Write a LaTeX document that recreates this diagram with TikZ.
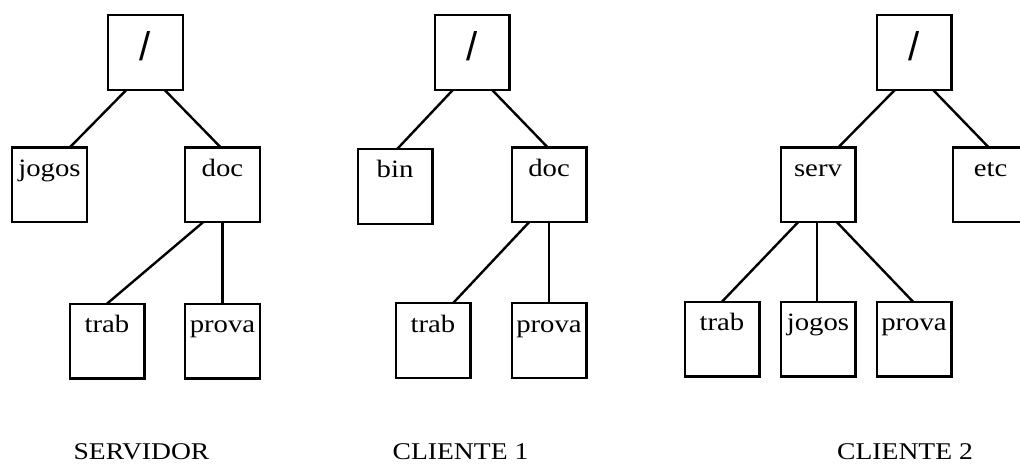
\documentclass[tikz,border=0pt]{standalone}
\usepackage{fontspec}
\setmainfont{Liberation Serif}[FakeStretch=1.15]
\newfontfamily\slashfont{Liberation Sans}

\begin{document}
\begin{tikzpicture}[x=1pt, y=-1pt,
  every node/.style={outer sep=0pt},
  dirbox/.style={draw, line width=2.4pt, minimum size=77pt-\pgflinewidth, inner sep=0pt,
    text height=0pt, text depth=17pt, font=\fontsize{25}{30}\selectfont},
  rootbox/.style={dirbox, text height=16pt, text depth=0pt, font=\slashfont\fontsize{40}{48}\selectfont},
  caption/.style={anchor=base, inner sep=0pt, font=\fontsize{24}{29}\selectfont},
  link/.style={line width=2.4pt}]
\useasboundingbox (0,0) rectangle (1020,465);

\node[rootbox] (sroot) at (145.5,52.5) {/};
\node[dirbox] (sjogos) at (49.5,185) {jogos};
\node[dirbox] (sdoc) at (222.5,185) {doc};
\node[dirbox] (strab) at (107,341) {trab};
\node[dirbox] (sprova) at (222.5,341) {prova};
\node[caption] (servidor) at (141.5,459) {SERVIDOR};

\node[rootbox] (c1root) at (472,52.5) {/};
\node[dirbox] (c1bin) at (395,186.5) {bin};
\node[dirbox] (c1doc) at (549,185) {doc};
\node[dirbox] (c1trab) at (433,340.5) {trab};
\node[dirbox] (c1prova) at (549,340.5) {prova};
\node[caption] (cliente1) at (460.5,459) {CLIENTE 1};

\node[rootbox] (c2root) at (914,52.5) {/};
\node[dirbox] (c2serv) at (818,185) {serv};
\node[dirbox] (c2etc) at (990.5,185) {etc};
\node[dirbox] (c2trab) at (722,339) {trab};
\node[dirbox] (c2jogos) at (818,339) {jogos};
\node[dirbox] (c2prova) at (914,339) {prova};
\node[caption] (cliente2) at (905,459) {CLIENTE 2};

\draw[link] ([xshift=-19pt]sroot.south) -- ([xshift=20pt]sjogos.north);
\draw[link] ([xshift=19pt]sroot.south) -- ([xshift=-1.5pt]sdoc.north);
\draw[link] ([xshift=-19.5pt]sdoc.south) -- (strab.north);
\draw[link] (sdoc.south) -- (sprova.north);

\draw[link] ([xshift=-19pt]c1root.south) -- ([xshift=2pt]c1bin.north);
\draw[link] ([xshift=20pt]c1root.south) -- ([xshift=-1pt]c1doc.north);
\draw[link] ([xshift=-20pt]c1doc.south) -- ([xshift=20pt]c1trab.north);
\draw[link] (c1doc.south) -- (c1prova.north);

\draw[link] ([xshift=-19pt]c2root.south) -- ([xshift=20pt]c2serv.north);
\draw[link] ([xshift=19pt]c2root.south) -- ([xshift=-1.5pt]c2etc.north);
\draw[link] ([xshift=-20pt]c2serv.south) -- (c2trab.north);
\draw[link] ([xshift=-1pt]c2serv.south) -- ([xshift=-1pt]c2jogos.north);
\draw[link] ([xshift=19pt]c2serv.south) -- ([xshift=-1pt]c2prova.north);
\end{tikzpicture}
\end{document}
